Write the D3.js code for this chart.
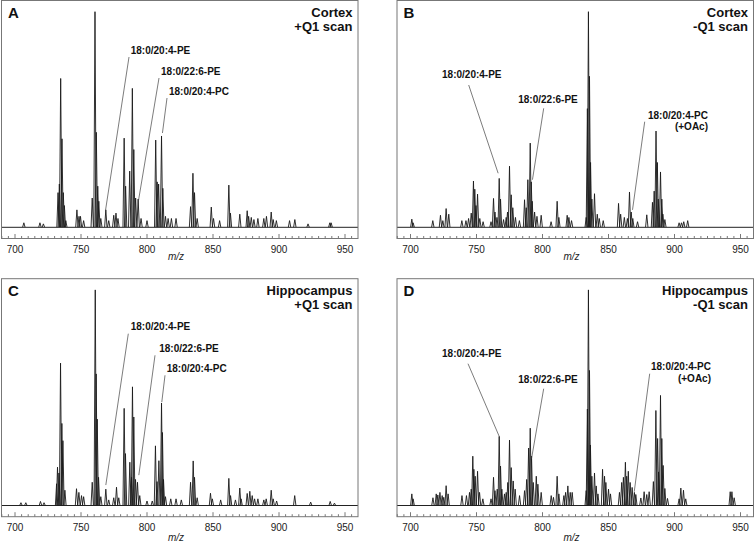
<!DOCTYPE html>
<html><head><meta charset="utf-8">
<script src="https://cdn.jsdelivr.net/npm/d3@7"></script>
<style>
body{margin:0;background:#fff}
svg{display:block}
text{font-family:"Liberation Sans",Arial,Helvetica,sans-serif}
</style>
</head><body>
<svg id="chart" width="756" height="545"></svg>
<script>
// ---------- DATA (m/z, relative intensity %) ----------
const peaksA = [
[706.7,2],[718.9,2],[721.5,1.5],
[732.6,16],[733.6,20],[734.6,69],[735.6,41],[736.6,16],[737.4,10],[738.5,3],
[746.9,8],[748.5,5],[749.6,5],[752,3],
[758.5,13.5],[760.6,100],[761.6,44],[762.7,19],[763.5,12],[765,4],
[768.8,8],[771,3],[774.8,5.5],[776.5,6.5],[778,4],
[782.7,41.3],[783.8,19],[786.9,26],[788.9,64.4],[790,36],[791.4,13.5],[793.3,13],[795.5,4],[800,3],
[806.6,40.4],[807.7,21],[808.8,20],[811,42.3],[812,18],[814,5],[816,4],[818.5,4],[822,4],
[833,9.5],[834.8,25],[836,16],[838,4],
[848.7,9.3],[850.4,4],[855,3],
[862,19.5],[863.2,6.5],[870.3,6],[875.9,7.6],[877,5],[879,4.5],[881,3.5],[884,4],
[888.5,4],[890.5,5],[894.1,7],[895.6,3.5],[898,3],[908,3],[912,3.5],[922,1.5],[938.5,2],[939.5,2]
];
const peaksB = [
[701,3.7],[702,2],[716.9,3],[722.7,5.5],[724.5,3],[727,8.6],[729,6],[738.9,3],[742,3],[744,4],[746,6.5],
[747.7,21.4],[748.7,17.6],[749.6,10],[750.8,15.3],[752.5,4],[755,2.5],[761,2.5],
[762.9,13.3],[764,7],[765.5,4.5],[767.2,22.6],[768.2,13],[770.5,3.5],[772.5,4.5],[773.5,7],
[775,28.3],[776.3,15],[777.5,9],[779.5,4.5],[782.5,3],
[786.4,12.7],[787.7,9],[788.9,22],[790.7,39],[791.5,21],[792.2,12],[794,7],[795.8,5],[799,5.5],[806.5,2.5],
[811.1,12],[812.4,4.5],[818.7,5.5],[820,4.5],[822,3],
[833.1,4.5],[834,55],[834.8,100],[835.6,70],[836.4,30],[837.4,13],[839.4,15.5],[841.5,6],[843,4],[846,3],
[857.6,11],[859.2,6],[862,4.5],[864.3,4],[865.9,16.3],[867.2,7],[868.4,4],[872,2.5],
[879,5.7],[883.3,11.5],[884.6,16.7],[886,44.6],[887,30],[887.7,13],[889.4,25.6],[890.4,13],[891.2,6],[892.7,3.5],
[903.5,2],[905.3,2],[907,2.5],[910,3]
];
const peaksC = [
[704.5,1.2],[708.2,1.2],[719.3,1.8],[722,1.2],
[731.5,10],[732.2,17.7],[733.3,15],[734.5,66],[735.5,38],[736.3,30],[737.8,7],
[746.6,7.7],[748.4,6],[750.4,4.5],[752,4],[758.5,10.7],[760.8,100],[761.5,61],[762.3,40],[763.3,13],[765,4],
[768.8,7.5],[771,2.5],[774.8,3.5],[776.9,8.4],[778.6,3.5],
[782.7,45],[783.7,24],[787,20],[788.3,13],[789,55],[790,41],[791.3,12],[792.8,10.7],[794.5,4.5],[800,2],[804,2],
[806.4,27.6],[807.6,11],[809,20.7],[811,47.5],[811.7,33.8],[812.5,12],[814,4],[818,3],[822,3],[826,2.5],
[833,10.7],[835,20.6],[836,13],[838,3.5],
[848.1,5.6],[849.5,3],[855.8,2.5],[862,12.5],[863.3,4.5],[867,2.5],[870.3,8],[871.3,3],
[875.9,5.5],[877.9,6.5],[879.7,4.5],[881.5,3],[884,3],[888.5,2.5],[890.3,3],[894.1,7],[895.6,3],[898.2,2],
[911.9,4.5],[924,1.5],[938.8,1.8],[942,1]
];
const peaksD = [
[701,5.3],[702,3],[717,3.5],[719.5,5.3],[720.7,4.8],[722.3,6],[724,4.5],[725.2,3.7],[727,9.1],[728.5,5.3],
[739,4.5],[742.4,4.5],[744.7,6],[746,7.5],[747.2,22.8],[748,16.7],[749,13.5],[750.8,15.8],[752.3,6],[754.8,3],
[761,3],[762.9,13],[764,6.8],[765.7,7.5],[767.2,32],[768.2,18.2],[769.2,7.5],[771.2,5.3],[772.5,6],[773.7,10.6],
[775,30.3],[776.3,17.5],[777.8,11.3],[779.3,7.5],[782.6,4.5],
[786.4,6.8],[788,12],[789.5,26.6],[790.7,35.8],[791.7,22.8],[793,10.6],[795.3,13.5],[796.5,9.8],[799,6],
[806.6,4.5],[808.3,3.7],[811.1,13.5],[812.4,5.3],[816.2,4.5],[817.5,6],[819.2,9],[821,6],[822.5,6],
[833.1,6.8],[834,44.7],[834.8,100],[835.6,62.6],[836.3,28],[837.4,13.5],[839.4,15],[840.7,9],[842,5.3],
[845.5,16.7],[847,13.5],[848,10.6],[850,7.5],[851.5,5.3],
[858.3,6],[860,10.6],[861.3,13],[862.8,20],[863.8,13.5],[865,15.8],[866.4,10.6],[867.9,8.3],[869.6,6],
[870.7,5],[874.5,3.4],[877,6.3],[879,5],[880.8,6.3],[884,11],[885.9,44],[887.2,31],[887.9,15.5],
[889.4,51],[890.4,31],[891.4,18.5],[892.7,7.8],[894.7,3.2],
[903.5,3],[904.8,8],[906.8,7],[908.5,3],[942.2,6.3],[943.5,6.3],[945.2,3.5]
];
const panelLetters = ["A","B","C","D"];
const panelTitles = [["Cortex","+Q1 scan"],["Cortex","-Q1 scan"],["Hippocampus","+Q1 scan"],["Hippocampus","-Q1 scan"]];
const tickLabels = [700,750,800,850,900,950];
const minorTicks = d3.range(690,960,5);
const axisTitle = "m/z";
// annotation texts and the data point (m/z, intensity) each leader line points to
const annotA = [{text:["18:0/20:4-PE"],mz:768.6,inten:7.9},{text:["18:0/22:6-PE"],mz:793.6,inten:12.5},{text:["18:0/20:4-PC"],mz:811.7,inten:43.7}];
const annotB = [{text:["18:0/20:4-PE"],mz:766.4,inten:25},{text:["18:0/22:6-PE"],mz:792.4,inten:22},{text:["18:0/20:4-PC","(+OAc)"],mz:868.2,inten:8}];
const annotC = [{text:["18:0/20:4-PE"],mz:768.8,inten:9.4},{text:["18:0/22:6-PE"],mz:793.8,inten:14},{text:["18:0/20:4-PC"],mz:811.2,inten:47.9}];
const annotD = [{text:["18:0/20:4-PE"],mz:767.2,inten:32},{text:["18:0/22:6-PE"],mz:791.7,inten:21.7},{text:["18:0/20:4-PC","(+OAc)"],mz:869.5,inten:6.3}];

// ---------- LAYOUT ----------
const W = 356.5, H = 238;
const layout = [
 {ox:1.5, oy:0.5, peaks:peaksA, ann:annotA, axisY:259.5,
  labels:[{x:159,y:53,anchor:"middle",lx:127.5,ly:56.5},{x:189.3,y:74.7,anchor:"middle",lx:157.5,ly:77.5},{x:197.5,y:94,anchor:"middle",lx:165.5,ly:97.5}]},
 {ox:397, oy:0.5, peaks:peaksB, ann:annotB, axisY:259.5,
  labels:[{x:74.8,y:77,anchor:"middle",lx:71.7,ly:84.5},{x:151,y:102.4,anchor:"middle",lx:146.7,ly:107.8},{x:311,y:118,anchor:"end",lx:247.7,ly:121.2}]},
 {ox:1.5, oy:278.7, peaks:peaksC, ann:annotC, axisY:262.5,
  labels:[{x:159,y:51.2,anchor:"middle",lx:126.8,ly:55},{x:187.5,y:73.6,anchor:"middle",lx:153.5,ly:76.6},{x:195.2,y:93.6,anchor:"middle",lx:163.5,ly:96.6}]},
 {ox:397, oy:278.7, peaks:peaksD, ann:annotD, axisY:262.5,
  labels:[{x:74.8,y:77.9,anchor:"middle",lx:71,ly:85},{x:151,y:104.2,anchor:"middle",lx:146.7,ly:110},{x:314,y:91.2,anchor:"end",lx:252.7,ly:95}]}
];

const svg = d3.select("#chart");
const x = d3.scaleLinear().domain([700 - 13.5/1.32, 700 + (W-13.5)/1.32]).range([0, W]);
const y = d3.scaleLinear().domain([0,100]).range([226.6, 11.2]);
const line = d3.line().x(d=>x(d[0])).y(d=>y(d[1]));
const floor = 0, hw = 0.9;

layout.forEach((p,i)=>{
  const g = svg.append("g").attr("transform",`translate(${p.ox},${p.oy})`);
  // ticks
  g.selectAll("line.tk").data(minorTicks).join("line").attr("class","tk")
    .attr("x1",d=>x(d)).attr("x2",d=>x(d)).attr("y1",H).attr("y2",d=>H-(d%50===0?4.5:2.5))
    .attr("stroke","#555").attr("stroke-width",0.8);
  g.selectAll("text.tl").data(tickLabels).join("text").attr("class","tl")
    .attr("x",d=>x(d)).attr("y",252.3).attr("text-anchor","middle")
    .attr("font-size",10).attr("fill","#222").text(d=>d);
  g.append("text").attr("x",x(822)).attr("y",p.axisY).attr("text-anchor","middle")
    .attr("font-size",10).attr("font-style","italic").attr("fill","#222").text(axisTitle);
  // baseline (spectrum floor on the axis line)
  g.append("line").attr("x1",0).attr("x2",W).attr("y1",y(floor)+0.2).attr("y2",y(floor)+0.2)
    .attr("stroke","#222").attr("stroke-width",1);
  g.selectAll("path.pk").data(p.peaks).join("path").attr("class","pk")
    .attr("d",d=>line([[d[0]-hw,floor],[d[0],d[1]],[d[0]+hw,floor]]))
    .attr("fill","none").attr("stroke","#1a1a1a").attr("stroke-width",0.9);
  // annotations
  p.ann.forEach((a,j)=>{
    const L = p.labels[j];
    g.append("line").attr("x1",L.lx).attr("y1",L.ly).attr("x2",x(a.mz)).attr("y2",y(a.inten))
      .attr("stroke","#444").attr("stroke-width",0.7);
    const t = g.append("text").attr("x",L.x).attr("y",L.y).attr("text-anchor",L.anchor)
      .attr("font-size",10).attr("font-weight","bold").attr("fill","#111");
    a.text.forEach((s,k)=>t.append("tspan").attr("x",L.x).attr("dy",k===0?0:11.8).text(s));
  });
  // panel letter and title
  g.append("text").attr("x",6.5).attr("y",17.8).attr("font-size",15).attr("font-weight","bold")
    .attr("fill","#111").text(panelLetters[i]);
  const tt = g.append("text").attr("x",351).attr("y",16).attr("text-anchor","end")
    .attr("font-size",13).attr("font-weight","bold").attr("fill","#111");
  panelTitles[i].forEach((s,k)=>tt.append("tspan").attr("x",351).attr("dy",k===0?0:14.2).text(s));
  // frame
  g.append("rect").attr("x",0).attr("y",0).attr("width",W).attr("height",H)
    .attr("fill","none").attr("stroke","#777").attr("stroke-width",1);
});
</script>
</body></html>
